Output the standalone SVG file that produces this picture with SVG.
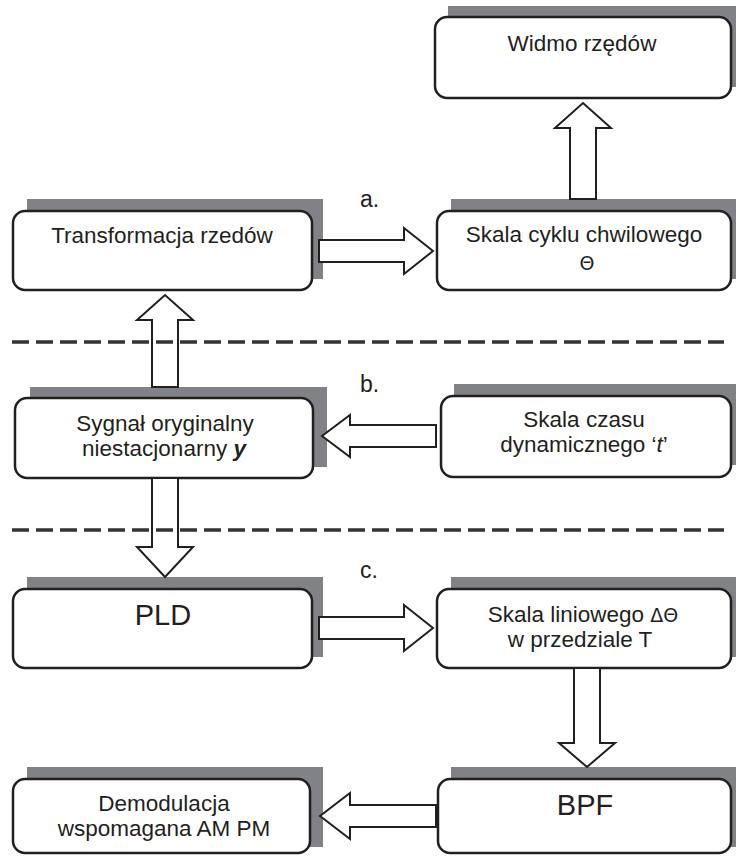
<svg xmlns="http://www.w3.org/2000/svg" width="736" height="856" viewBox="0 0 736 856">
<style>
.sh{fill:#808285}
.bx{fill:#fff;stroke:#231f20;stroke-width:2.5}
.t{font-family:"Liberation Sans",Arial,sans-serif;font-size:22.5px;fill:#231f20;text-anchor:middle}
.big{font-size:29px}
.sym{font-family:"DejaVu Sans","Liberation Sans",sans-serif;font-size:19px}
.ar{fill:#fff;stroke:#231f20;stroke-width:2;stroke-linejoin:miter}
.dash{stroke:#333;stroke-width:3.5;stroke-dasharray:17 7;fill:none}
.lb{font-family:"Liberation Sans",Arial,sans-serif;font-size:23px;fill:#231f20}
</style>
<rect width="736" height="856" fill="#fff"/>
<g id="widmo">
<rect class="sh" x="448" y="6" width="300" height="81"/>
<rect class="bx" x="435" y="17" width="296" height="81" rx="12"/>
<text class="t" x="582" y="51">Widmo rzędów</text>
</g>
<g id="transformacja">
<rect class="sh" x="27" y="199" width="296" height="80"/>
<rect class="bx" x="13" y="211" width="299" height="79" rx="12"/>
<text class="t" x="162" y="243">Transformacja rzedów</text>
</g>
<g id="skala-cyklu">
<rect class="sh" x="451" y="199" width="300" height="80"/>
<rect class="bx" x="437" y="211" width="294" height="79" rx="12"/>
<text class="t" x="584" y="242">Skala cyklu chwilowego</text>
<text class="t sym" x="587" y="270">Θ</text>
</g>
<g id="sygnal">
<rect class="sh" x="30" y="387" width="297" height="80"/>
<rect class="bx" x="15" y="398" width="298" height="80" rx="12"/>
<text class="t" x="165" y="431">Sygnał oryginalny</text>
<text class="t" x="164" y="456">niestacjonarny <tspan font-weight="bold" font-style="italic">y</tspan></text>
</g>
<g id="skala-czasu">
<rect class="sh" x="454" y="384" width="300" height="81"/>
<rect class="bx" x="441" y="396" width="290" height="81" rx="12"/>
<text class="t" x="584" y="427">Skala czasu</text>
<text class="t" x="584" y="452">dynamicznego ‘<tspan font-style="italic">t</tspan>’</text>
</g>
<g id="pld">
<rect class="sh" x="27" y="577" width="296" height="80"/>
<rect class="bx" x="13" y="589" width="299" height="79" rx="12"/>
<text class="t big" x="163" y="625">PLD</text>
</g>
<g id="skala-liniowego">
<rect class="sh" x="451" y="577" width="300" height="80"/>
<rect class="bx" x="437" y="589" width="294" height="79" rx="12"/>
<text class="t" x="583" y="622">Skala liniowego <tspan class="sym" font-size="20">ΔΘ</tspan></text>
<text class="t" x="580" y="647">w przedziale T</text>
</g>
<g id="bpf">
<rect class="sh" x="451" y="767" width="300" height="80"/>
<rect class="bx" x="438" y="779" width="293" height="74" rx="12"/>
<text class="t big" x="585" y="815">BPF</text>
</g>
<g id="demodulacja">
<rect class="sh" x="27" y="767" width="296" height="80"/>
<rect class="bx" x="13" y="779" width="297" height="74" rx="12"/>
<text class="t" x="164" y="811">Demodulacja</text>
<text class="t" x="164" y="836">wspomagana AM PM</text>
</g>
<g id="connectors">
<polygon class="ar" points="570,199 570,128 555,128 583,103 611,128 596,128 596,199"/>
<polygon class="ar" points="319,240 404,240 404,228 433,251 404,274 404,262 319,262"/>
<polygon class="ar" points="152,387 152,320 137,320 165,295 193,320 178,320 178,387"/>
<polygon class="ar" points="436,425 350,425 350,415 322,436 350,457 350,447 436,447"/>
<polygon class="ar" points="152,478 152,547 137,547 165,577 193,547 178,547 178,478"/>
<polygon class="ar" points="319,617 404,617 404,605 433,628 404,651 404,639 319,639"/>
<polygon class="ar" points="574,668 574,743 559,743 587,767 615,743 600,743 600,668"/>
<polygon class="ar" points="436,805 350,805 350,793 320,816 350,839 350,827 436,827"/>
<line class="dash" x1="12" y1="342" x2="724" y2="342"/>
<line class="dash" x1="12" y1="530" x2="724" y2="530"/>
</g>
<text class="lb" x="360" y="207">a.</text>
<text class="lb" x="360" y="392">b.</text>
<text class="lb" x="360" y="578">c.</text>
</svg>
